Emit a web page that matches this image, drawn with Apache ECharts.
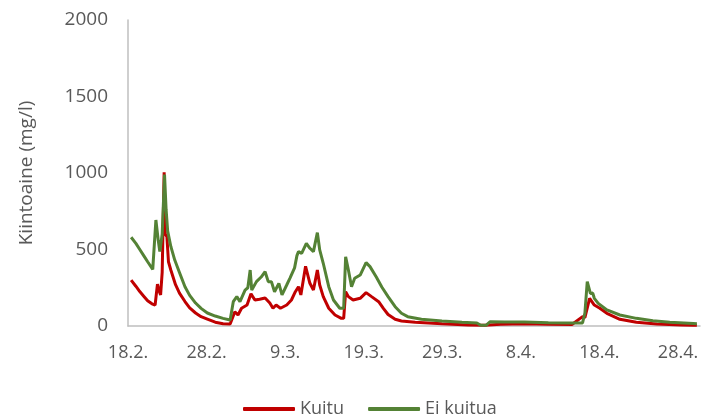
<!DOCTYPE html>
<html>
<head>
<meta charset="utf-8">
<script src="https://cdn.jsdelivr.net/npm/echarts@6/dist/echarts.min.js"></script>
<style>
  html, body { margin: 0; padding: 0; background: #fff; }
  #chart { width: 702px; height: 416px; }
</style>
</head>
<body>
<div id="chart"></div>
<script>
// days counted from 18.2.2020 (leap year, so 28.2. -> 9.3. is 10 days)
const startDate = [2020, 1, 18];
const tickDays = [0, 10, 20, 30, 40, 50, 60, 70];

const kuituDays = [
  0.4, 1.0, 1.5, 2.0, 2.5, 3.05, 3.45, 3.75, 3.95, 4.15, 4.35, 4.6, 4.75, 4.95, 5.15, 5.45,
  6.05, 6.55, 7.25, 7.85, 8.6, 9.3, 10.1, 11.1, 12.1, 13.0, 13.6, 14.0, 14.45, 15.15,
  15.65, 16.15, 16.75, 17.45, 18.05, 18.45, 18.85, 19.4, 20.2, 20.8, 21.3, 21.7, 22.0,
  22.6, 23.15, 23.6, 24.1, 24.4, 24.85, 25.55, 26.35, 27.15, 27.45, 27.7, 28.05, 28.65,
  29.55, 30.3, 31.0, 31.9, 32.5, 33.1, 34.0, 34.8, 36.55, 39.95, 43.3, 45.4, 47.45,
  50.45, 53.5, 56.5, 57.55, 57.85, 58.15, 58.75, 58.95, 59.35, 60.05, 60.95, 62.6, 64.7,
  67.3, 70.45, 71.95, 72.4
];
const kuituValues = [
  300, 260, 225, 195, 165, 145, 137, 274, 230, 203, 350, 1005, 600, 584, 420, 366,
  270, 215, 160, 118, 85, 61, 45, 25, 15, 13, 93, 72, 116, 137,
  210, 170, 175, 183, 150, 116, 137, 116, 137, 170, 224, 257, 203,
  390, 279, 235, 366, 268, 192, 116, 72, 50, 50, 224, 192, 170,
  181, 218, 192, 159, 115, 75, 44, 33, 24, 15, 7, 5, 12,
  15, 12, 10, 50, 61, 55, 181, 192, 137, 116, 83, 44, 24,
  13, 7, 5, 5
];

const eiKuituaDays = [
  0.4, 1.0, 1.5, 2.0, 2.5, 3.15, 3.55, 3.85, 4.05, 4.35, 4.65, 4.85, 5.05, 5.45, 5.95, 6.55,
  7.25, 7.85, 8.6, 9.3, 10.1, 11.1, 12.1, 13.0, 13.4, 13.85, 14.25, 14.9, 15.25, 15.55,
  15.75, 16.35, 16.95, 17.45, 17.85, 18.25, 18.65, 19.2, 19.6, 20.2, 20.6, 21.2, 21.5,
  21.7, 22.1, 22.7, 23.15, 23.6, 24.1, 24.4, 24.85, 25.55, 26.15, 26.95, 27.45, 27.7,
  28.05, 28.45, 28.85, 29.55, 30.3, 30.8, 31.6, 32.3, 33.1, 34.0, 34.8, 35.6, 37.35,
  39.95, 42.5, 44.4, 44.9, 45.6, 46.1, 47.95, 50.45, 53.5, 56.5, 57.85, 58.15, 58.45,
  58.85, 59.15, 59.35, 59.85, 60.95, 62.6, 64.7, 66.8, 68.95, 71.95, 72.4
];
const eiKuituaValues = [
  580, 540, 500, 460, 420, 370, 693, 560, 486, 600, 990, 760, 620, 520, 431, 350,
  257, 200, 150, 115, 85, 65, 50, 39, 159, 192, 159, 235, 250, 366,
  235, 290, 320, 355, 290, 290, 224, 279, 203, 268, 312, 380, 460,
  486, 475, 540, 508, 486, 610, 497, 410, 257, 170, 116, 116, 453,
  366, 257, 312, 333, 414, 388, 320, 255, 192, 126, 83, 61, 44,
  33, 24, 20, 5, 5, 28, 26, 26, 22, 20, 20, 85, 290,
  213, 215, 181, 148, 105, 72, 50, 35, 24, 17, 15
];

const yTicks = [0, 500, 1000, 1500, 2000];

function dayLabel(v) {
  const d = new Date(startDate[0], startDate[1], startDate[2] + v);
  return d.getDate() + '.' + (d.getMonth() + 1) + '.';
}

const chart = echarts.init(document.getElementById('chart'));
const textColor = '#595959';
const axisColor = '#BFBFBF';
const font = 'Open Sans';

chart.setOption({
  animation: false,
  grid: {
    left: 128, right: 2, top: 20, bottom: 90,
    containLabel: false,
    outerBoundsMode: 'none'
  },
  legend: {
    top: 395,
    left: 238,
    itemWidth: 52,
    itemHeight: 4,
    itemGap: 24,
    icon: 'roundRect',
    textStyle: { color: textColor, fontSize: 18, fontFamily: font },
    data: ['Kuitu', 'Ei kuitua']
  },
  xAxis: {
    type: 'value',
    min: 0,
    max: 72.8,
    interval: 10,
    axisLine: { show: true, lineStyle: { color: axisColor, width: 1.5 } },
    axisTick: { show: false },
    splitLine: { show: false },
    axisLabel: {
      color: textColor,
      fontSize: 18,
      fontFamily: font,
      margin: 18,
      showMaxLabel: false,
      formatter: (v) => (tickDays.indexOf(v) >= 0 ? dayLabel(v) : '')
    }
  },
  yAxis: {
    type: 'value',
    min: yTicks[0],
    max: yTicks[yTicks.length - 1],
    interval: 500,
    name: 'Kiintoaine (mg/l)',
    nameLocation: 'middle',
    nameGap: 92,
    nameTextStyle: { color: textColor, fontSize: 19, fontFamily: font },
    axisLine: { show: true, lineStyle: { color: axisColor, width: 1.5 } },
    axisTick: { show: false },
    splitLine: { show: false },
    axisLabel: {
      color: textColor,
      fontSize: 19,
      fontFamily: font,
      margin: 20,
      formatter: (v) => String(v)
    }
  },
  series: [
    {
      name: 'Kuitu',
      type: 'line',
      symbol: 'none',
      data: kuituDays.map((d, i) => [d, kuituValues[i]]),
      lineStyle: { color: '#C00000', width: 3 },
      itemStyle: { color: '#C00000' }
    },
    {
      name: 'Ei kuitua',
      type: 'line',
      symbol: 'none',
      data: eiKuituaDays.map((d, i) => [d, eiKuituaValues[i]]),
      lineStyle: { color: '#548235', width: 3 },
      itemStyle: { color: '#548235' }
    }
  ]
});
</script>
</body>
</html>
